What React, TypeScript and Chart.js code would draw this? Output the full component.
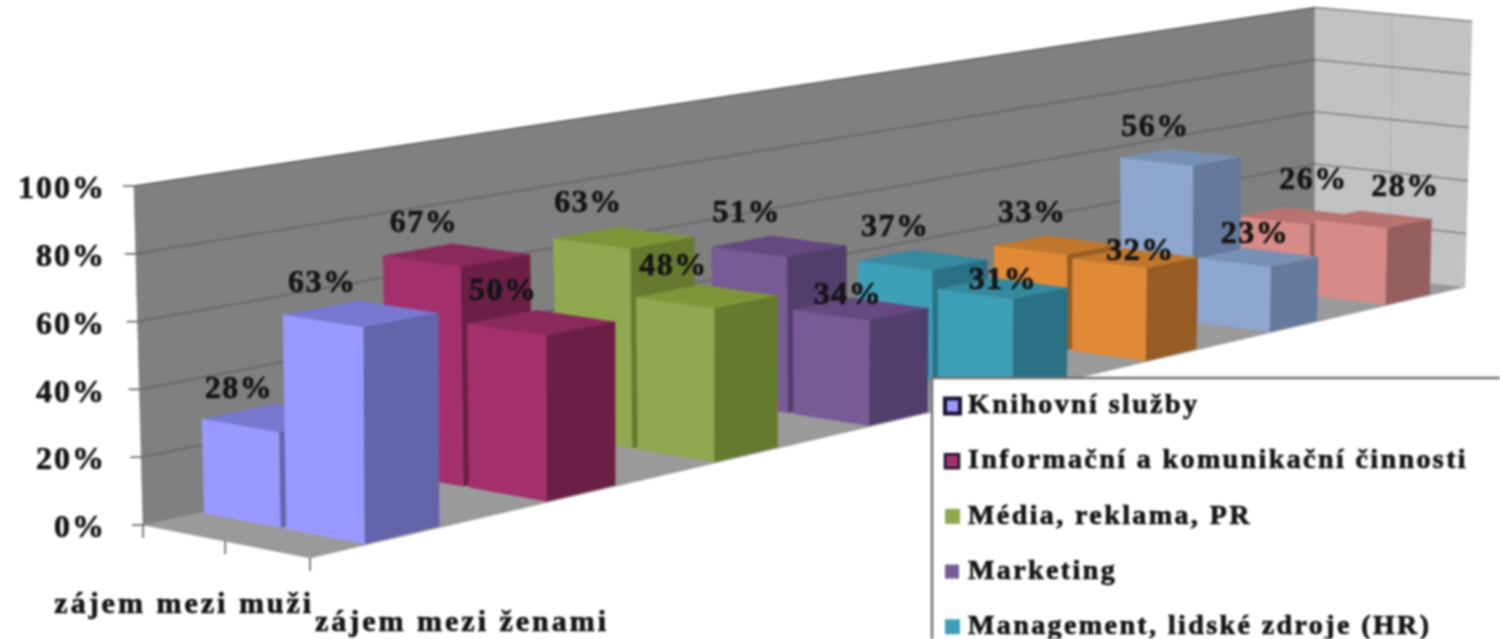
import React, { useEffect, useRef } from "react";
import { Chart, registerables } from "chart.js";

Chart.register(...registerables);

const categories = ["zájem mezi muži", "zájem mezi ženami"];
const seriesNames = [
  "Knihovní služby",
  "Informační a komunikační činnosti",
  "Média, reklama, PR",
  "Marketing",
  "Management, lidské zdroje (HR)",
  "",
  "",
  "",
];
const menValues = [28, 67, 63, 51, 37, 33, 56, 26];
const womenValues = [63, 50, 48, 34, 31, 32, 23, 28];
const yTicks = [0, 20, 40, 60, 80, 100];

const frontColors = ["#9999ff", "#a3306c", "#90a84e", "#775a96", "#3e9fb8", "#e08a36", "#8fa6d0", "#d68b88"];
const sideColors = ["#6464aa", "#6b1f45", "#667a2f", "#503e6b", "#2a7085", "#965c24", "#64799b", "#955f5e"];
const topColors = ["#7878d0", "#8a2a5c", "#7d9638", "#64487f", "#358a9f", "#c0772c", "#7890b4", "#b87270"];

// label placement relative to the top-left front corner of each bar
const labelDx = [
  [37, 41, 35, 35, 37, 38, 35, 74],
  [39, 36, 37, 55, 65, 68, 57, 90],
];
const labelDy = [
  [-29, -32, -35, -33, -33, -32, -30, -36],
  [-31, -32, -31, -14, -9, -7, -24, -32],
];

const FONT = '"Liberation Serif", serif';
const P = { x0: 143, A: 157.9, B: 1619.1, E: 16.6, F: -165.5, g: -0.0294, h: 0.34, hg: -0.024, hh: 0.3 };

function makeProject(chart: any) {
  const y = chart.scales.y;
  const y0 = y.getPixelForValue(0);
  const full = y0 - y.getPixelForValue(100);
  return (s: number, t: number, hPx: number) => {
    const w = 1 + P.g * s + P.h * t;
    const wh = 1 + P.hg * s + P.hh * t;
    const lean = (-9 + 9 * t + 7 * s) * (hPx / full);
    return [
      (P.x0 + P.A * s + P.B * t) / w + lean,
      (y0 + P.E * s + P.F * t) / w - hPx / wh,
    ];
  };
}

function quad(ctx: CanvasRenderingContext2D, pts: number[][], fill: string) {
  ctx.beginPath();
  pts.forEach((p, i) => (i ? ctx.lineTo(p[0], p[1]) : ctx.moveTo(p[0], p[1])));
  ctx.closePath();
  ctx.fillStyle = fill;
  ctx.fill();
  ctx.strokeStyle = fill;
  ctx.lineWidth = 0.6;
  ctx.stroke();
}

function line(ctx: CanvasRenderingContext2D, a: number[], b: number[], color: string, width = 1.5) {
  ctx.beginPath();
  ctx.moveTo(a[0], a[1]);
  ctx.lineTo(b[0], b[1]);
  ctx.strokeStyle = color;
  ctx.lineWidth = width;
  ctx.stroke();
}

function heavyText(ctx: CanvasRenderingContext2D, text: string, x: number, y: number) {
  ctx.strokeStyle = "#141414";
  ctx.lineWidth = 0.7;
  ctx.strokeText(text, x, y);
  ctx.fillText(text, x, y);
}

const box3d = {
  id: "box3d",
  beforeDraw(chart: any) {
    chart.ctx.letterSpacing = "2px";
  },
  beforeDatasetsDraw(chart: any) {
    const ctx = chart.ctx as CanvasRenderingContext2D;
    const project = makeProject(chart);
    const yS = chart.scales.y;
    const xS = chart.scales.x;
    const y0 = yS.getPixelForValue(0);
    const span = xS.right - xS.left;
    const H = y0 - yS.getPixelForValue(100);

    // walls and floor
    quad(ctx, [project(0, 0, 0), project(0, 1, 0), project(1, 1, 0), project(1, 0, 0)], "#9a9a9a");
    quad(ctx, [project(0, 0, 0), project(0, 1, 0), project(0, 1, H), project(0, 0, H)], "#808080");
    quad(ctx, [project(0, 1, 0), project(1, 1, 0), project(1, 1, H), project(0, 1, H)], "#c2c2c2");
    line(ctx, project(0.5, 1, 0), project(0.5, 1, H), "#b0b0b0", 1);
    yTicks.forEach((v) => {
      const h = y0 - yS.getPixelForValue(v);
      if (v > 0) {
        line(ctx, project(0, 0, h), project(0, 1, h), "#626262");
        line(ctx, project(0, 1, h), project(1, 1, h), "#808080");
      }
      const a = project(0, 0, h);
      line(ctx, [a[0] - 11, a[1]], a, "#555");
    });
    [0, 0.5, 1].forEach((s) => {
      const a = project(s, 0, 0);
      line(ctx, a, [a[0], a[1] + 13], "#555");
    });

    // bars, far to near
    const rows = [chart.getDatasetMeta(0), chart.getDatasetMeta(1)];
    const sRange = [
      [0.02, 0.483],
      [0.519, 0.98],
    ];
    for (let i = seriesNames.length - 1; i >= 0; i--) {
      const tc = (xS.getPixelForValue(i) - xS.left) / span;
      const t0 = tc - 0.2 / 8;
      const t1 = tc + 0.2 / 8;
      rows.forEach((meta, r) => {
        const el = meta.data[i];
        const h = el.base - el.y;
        const [s0, s1] = sRange[r];
        quad(ctx, [project(s0, t0, h), project(s1, t0, h), project(s1, t1, h), project(s0, t1, h)], topColors[i]);
        quad(ctx, [project(s1, t0, 0), project(s1, t1, 0), project(s1, t1, h), project(s1, t0, h)], sideColors[i]);
        quad(ctx, [project(s0, t0, 0), project(s1, t0, 0), project(s1, t0, h), project(s0, t0, h)], frontColors[i]);
      });
    }
  },
  beforeDatasetDraw() {
    return false;
  },
  afterDatasetsDraw(chart: any) {
    const ctx = chart.ctx as CanvasRenderingContext2D;
    const project = makeProject(chart);
    const xS = chart.scales.x;
    const span = xS.right - xS.left;
    ctx.save();
    ctx.textAlign = "center";
    ctx.textBaseline = "middle";
    // data labels
    (ctx as any).letterSpacing = "1.5px";
    ctx.font = `bold 32px ${FONT}`;
    ctx.fillStyle = "#141414";
    const sLeft = [0.02, 0.519];
    [0, 1].forEach((r) => {
      const meta = chart.getDatasetMeta(r);
      const values = r === 0 ? menValues : womenValues;
      values.forEach((v, i) => {
        const el = meta.data[i];
        const tc = (xS.getPixelForValue(i) - xS.left) / span;
        const p = project(sLeft[r], tc - 0.2 / 8, el.base - el.y);
        heavyText(ctx, `${v}%`, p[0] + labelDx[r][i], p[1] + labelDy[r][i]);
      });
    });
    // category labels
    (ctx as any).letterSpacing = "3px";
    ctx.font = `bold 30px ${FONT}`;
    const a = project(0.5, 0, 0);
    const b = project(1, 0, 0);
    heavyText(ctx, categories[0], a[0] - 41, a[1] + 64);
    heavyText(ctx, categories[1], b[0] + 152, b[1] + 65);
    ctx.restore();

    // legend box, running off the picture
    ctx.save();
    ctx.fillStyle = "#ffffff";
    ctx.fillRect(932, 378, 568, 261);
    ctx.strokeStyle = "#707070";
    ctx.lineWidth = 2.5;
    ctx.beginPath();
    ctx.moveTo(1500, 378);
    ctx.lineTo(932, 378);
    ctx.lineTo(932, 639);
    ctx.stroke();
    ctx.font = `bold 28px ${FONT}`;
    ctx.textAlign = "left";
    ctx.textBaseline = "middle";
    (ctx as any).letterSpacing = "2.4px";
    const rowsY = 406;
    const rowGap = 55.2;
    const markerSize = [15, 14, 15, 14, 15];
    seriesNames.forEach((name, i) => {
      if (!name) return;
      const yy = rowsY + rowGap * i;
      const m = markerSize[i];
      ctx.fillStyle = frontColors[i];
      ctx.fillRect(945, yy - m / 2, m, m);
      if (i < 2) {
        ctx.strokeStyle = "#1a1030";
        ctx.lineWidth = i === 0 ? 4 : 2.5;
        ctx.strokeRect(945, yy - m / 2, m, m);
      }
      ctx.fillStyle = "#141414";
      heavyText(ctx, name, 968, yy);
    });
    ctx.restore();
  },
};

export default function App() {
  const ref = useRef<HTMLCanvasElement>(null);
  useEffect(() => {
    const chart = new Chart(ref.current!, {
      type: "bar",
      data: {
        labels: seriesNames.map((n, i) => n || `${i + 1}`),
        datasets: [
          { label: categories[0], data: menValues, backgroundColor: frontColors },
          { label: categories[1], data: womenValues, backgroundColor: frontColors },
        ],
      },
      options: {
        animation: false,
        responsive: false,
        devicePixelRatio: 1,
        layout: { padding: { left: 0, top: 186, right: 0, bottom: 114 } },
        plugins: { legend: { display: false }, tooltip: { enabled: false } },
        scales: {
          x: { display: false },
          y: {
            min: 0,
            max: 100,
            afterFit: (s: any) => {
              s.width = 118;
            },
            border: { display: false },
            grid: { display: false, drawTicks: false },
            ticks: {
              stepSize: 20,
              padding: 12,
              labelOffset: 4,
              color: "#141414",
              textStrokeColor: "#141414",
              textStrokeWidth: 0.7,
              font: { family: FONT, size: 32, weight: "bold" },
              callback: (v: any) => `${v}%`,
            },
          },
        },
      },
      plugins: [box3d],
    } as any);
    return () => chart.destroy();
  }, []);
  return (
    <div style={{ position: "absolute", left: 0, top: 0, width: 1500, height: 639, overflow: "hidden" }}>
      <canvas ref={ref} width={1500} height={639} style={{ display: "block", filter: "blur(1px)" }} />
    </div>
  );
}
